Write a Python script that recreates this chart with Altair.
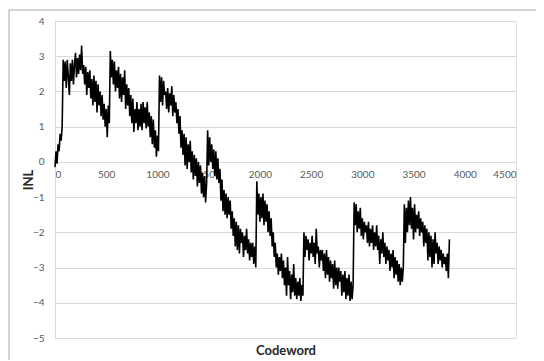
import altair as alt
import pandas as pd

# INL, one value every 10 codewords; each list starts at its codeword
seg_start = [0, 540, 1020, 1490, 1970, 2430, 2920, 3410]

seg_a = [-0.15, 0.3, -0.05, 0.5, 0.3, 0.8, 0.6, 1.0, 2.9, 2.3,
         2.85, 2.1, 2.9, 2.4, 1.9, 2.8, 2.3, 2.9, 2.2, 2.75,
         3.1, 2.4, 2.95, 2.5, 3.05, 2.6, 3.3, 2.5, 2.75, 2.2,
         2.7, 1.9, 2.55, 2.1, 2.6, 1.8, 2.35, 1.6, 2.45, 1.7,
         2.3, 1.4, 2.2, 1.6, 2.0, 1.3, 1.9, 1.2, 1.65, 1.0,
         1.5, 0.7, 1.6, 1.1]
seg_b = [3.15, 2.4, 2.9, 2.2, 2.85, 2.0, 2.6, 2.1, 2.7, 1.8,
         2.5, 1.7, 2.4, 1.9, 2.6, 1.5, 2.2, 1.6, 2.1, 1.3,
         1.9, 1.1, 1.8, 0.85, 1.5, 1.1, 1.7, 0.9, 1.5, 1.0,
         1.65, 0.9, 1.7, 1.1, 1.55, 0.95, 1.7, 1.0, 1.4, 0.7,
         1.3, 0.5, 1.2, 0.4, 0.9, 0.15, 0.75, 0.3]
seg_c = [2.45, 1.7, 2.4, 1.6, 2.3, 1.9, 2.0, 1.5, 2.1, 1.4,
         1.95, 1.6, 2.15, 1.3, 1.9, 1.4, 1.7, 1.1, 1.5, 0.8,
         1.3, 0.4, 0.9, 0.2, 0.8, -0.1, 0.7, -0.2, 0.5, 0.0,
         0.6, -0.3, 0.3, -0.5, 0.2, -0.4, 0.1, -0.7, 0.0, -0.6,
         -0.1, -0.9, -0.3, -1.0, -0.4, -1.15, -0.6]
seg_d = [0.9, -0.1, 0.7, 0.0, 0.5, -0.2, 0.35, -0.4, 0.3, -0.5,
         0.1, -0.6, -0.2, -1.1, -0.5, -1.4, -0.8, -1.5, -0.9, -1.6,
         -1.0, -1.5, -1.1, -1.9, -1.4, -2.1, -1.6, -2.4, -1.7, -2.5,
         -1.8, -2.6, -1.9, -2.3, -2.0, -2.7, -2.1, -2.5, -1.9, -2.6,
         -2.2, -2.8, -2.3, -2.7, -2.3, -2.9, -2.4, -3.0]
seg_e = [-0.55, -1.5, -0.9, -1.7, -1.0, -1.6, -0.9, -1.8, -1.1, -1.7,
         -1.2, -2.0, -1.4, -2.1, -1.6, -2.4, -2.0, -2.7, -2.3, -3.0,
         -2.6, -3.2, -2.7, -3.1, -2.6, -3.3, -2.8, -3.5, -3.0, -3.8,
         -2.7, -3.5, -3.1, -3.9, -3.2, -3.7, -2.9, -3.8, -3.3, -3.9,
         -3.4, -3.8, -3.3, -3.95, -3.5, -3.8]
seg_f = [-2.0, -2.7, -2.1, -2.5, -2.2, -2.8, -2.3, -2.6, -2.1, -2.7,
         -2.3, -2.9, -1.9, -2.6, -2.4, -3.0, -2.5, -2.8, -2.5, -3.1,
         -2.6, -3.3, -2.5, -3.2, -2.7, -3.4, -2.8, -3.3, -2.9, -3.6,
         -2.8, -3.5, -3.0, -3.6, -3.0, -3.4, -3.1, -3.8, -3.2, -3.7,
         -3.1, -3.9, -3.3, -3.8, -3.2, -3.95, -3.4, -3.9, -3.5]
seg_g = [-1.15, -1.8, -1.2, -2.0, -1.4, -1.9, -1.3, -2.1, -1.6, -2.2,
         -1.7, -2.0, -1.8, -2.3, -1.7, -2.4, -1.9, -2.3, -1.8, -2.5,
         -2.0, -2.4, -1.8, -2.5, -2.1, -2.9, -2.2, -2.6, -2.0, -2.7,
         -2.3, -2.9, -2.4, -2.8, -2.5, -3.1, -2.6, -3.0, -2.5, -3.3,
         -2.7, -3.2, -2.8, -3.4, -2.9, -3.5, -3.0, -3.4, -3.0]
seg_h = [-1.2, -2.3, -1.3, -2.0, -1.1, -1.8, -1.0, -1.9, -1.3, -2.2,
         -1.2, -2.0, -1.5, -1.9, -1.4, -2.1, -1.6, -2.0, -1.7, -2.4,
         -1.8, -2.3, -1.9, -2.8, -2.0, -2.7, -2.1, -3.0, -2.2, -2.9,
         -2.0, -2.6, -2.3, -2.9, -2.4, -2.8, -2.5, -3.0, -2.6, -2.9,
         -2.7, -3.1, -2.6, -3.3, -2.2]

segments = [seg_a, seg_b, seg_c, seg_d, seg_e, seg_f, seg_g, seg_h]

codewords, inl = [], []
for start, vals in zip(seg_start, segments):
    for i, v in enumerate(vals):
        codewords.append(start + 10 * i)
        inl.append(v)

x_ticks = [0, 500, 1000, 1500, 2000, 2500, 3000, 3500, 4000, 4500]
y_ticks = [-5, -4, -3, -2, -1, 0, 1, 2, 3, 4]

df = pd.DataFrame({"Codeword": codewords, "INL": inl})

W, H = 461, 317
FONT = "Lato"

line = alt.Chart(df).mark_line(color="black", strokeWidth=1.6).encode(
    x=alt.X("Codeword:Q",
            scale=alt.Scale(domain=[0, 4500], nice=False),
            axis=alt.Axis(values=x_ticks, format="d", grid=False, offset=-176, tickSize=0,
                          labelPadding=7, labelFontSize=10, labelColor="#595959",
                          labelFont=FONT, domainColor="#d9d9d9",
                          title="Codeword", titleFont=FONT, titleFontSize=13,
                          titleFontWeight="bold", titleColor="#262626",
                          titleY=188, titleBaseline="middle")),
    y=alt.Y("INL:Q",
            scale=alt.Scale(domain=[-5, 4], nice=False),
            axis=alt.Axis(values=y_ticks, grid=True, gridColor="#d9d9d9", tickSize=0,
                          labelPadding=11, labelFontSize=10, labelColor="#595959",
                          labelFont=FONT, domainColor="#d9d9d9",
                          title="INL", titleFont=FONT, titleFontSize=13,
                          titleFontWeight="bold", titleColor="#262626",
                          titleX=-27, titleY=H / 2, titleAngle=270,
                          titleBaseline="middle", titleAlign="center")),
)

border = alt.Chart(alt.Data(values=[{}])).mark_rect(
    filled=False, stroke="#a6a6a6", strokeWidth=1
).encode(
    x=alt.value(-46), x2=alt.value(W + 200),
    y=alt.value(-11), y2=alt.value(H + 200),
)

chart = alt.layer(border, line).properties(
    width=W, height=H,
    autosize=alt.AutoSizeParams(type="none"),
    padding={"left": 47, "top": 13, "right": 20, "bottom": 22},
).configure_view(stroke=None).configure(background="white")

chart.save("out.html", embed_options={"renderer": "svg", "actions": False})
